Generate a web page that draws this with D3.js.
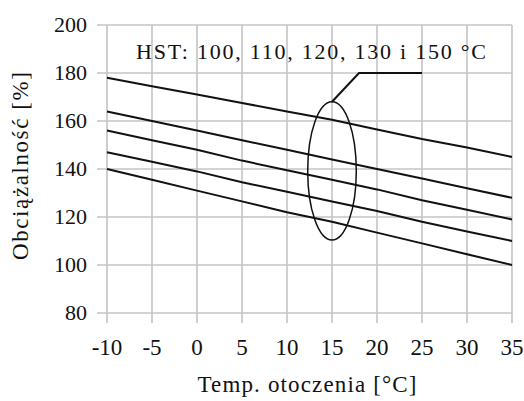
<!DOCTYPE html>
<html>
<head>
<meta charset="utf-8">
<script src="https://cdn.jsdelivr.net/npm/d3@7"></script>
<style>
  body { margin: 0; background: #fff; }
  text { font-family: "Liberation Serif", "Times New Roman", serif; fill: #111; }
</style>
</head>
<body>
<div id="chart"></div>
<script>
// data
const temps = [-10, -5, 0, 5, 10, 15, 20, 25, 30, 35];
const hst100 = [140, 135.5, 131, 126.5, 122, 118, 113.5, 109, 104.5, 100];
const hst110 = [147, 143, 139, 134.5, 130.5, 126.5, 122.5, 118, 114, 110];
const hst120 = [156, 152, 148, 143.5, 139.5, 135.5, 131.5, 127, 123, 119];
const hst130 = [164, 160, 156, 152, 148, 144, 140, 136, 132, 128];
const hst150 = [178, 174.5, 171, 167.5, 164, 160.5, 156.5, 152.5, 149, 145];
const series = [hst100, hst110, hst120, hst130, hst150];
const xTicks = [-10, -5, 0, 5, 10, 15, 20, 25, 30, 35];
const yTicks = [80, 100, 120, 140, 160, 180, 200];
const note = "HST: 100, 110, 120, 130 i 150 °C";

const margin = { top: 25, right: 12, bottom: 88, left: 107 };
const width = 524 - margin.left - margin.right;
const height = 401 - margin.top - margin.bottom;

const svg = d3.select("#chart")
    .append("svg")
    .attr("width", 524)
    .attr("height", 401);

const g = svg.append("g")
    .attr("transform", `translate(${margin.left},${margin.top})`);

const x = d3.scaleLinear().domain([-10, 35]).range([0, width]);
const y = d3.scaleLinear().domain([80, 200]).range([height, 0]);

// grid, with the little overhang outside the plot
g.selectAll(".hgrid")
    .data(yTicks)
    .enter()
    .append("line")
    .attr("x1", -10)
    .attr("x2", width)
    .attr("y1", d => y(d))
    .attr("y2", d => y(d))
    .attr("stroke", "#c4c4c4")
    .attr("stroke-width", 1.6);

g.selectAll(".vgrid")
    .data(xTicks)
    .enter()
    .append("line")
    .attr("x1", d => x(d))
    .attr("x2", d => x(d))
    .attr("y1", 0)
    .attr("y2", height + 10)
    .attr("stroke", "#c4c4c4")
    .attr("stroke-width", 1.6);

// tick labels
g.selectAll(".ylab")
    .data(yTicks)
    .enter()
    .append("text")
    .attr("x", -20)
    .attr("y", d => y(d) + 7)
    .attr("text-anchor", "end")
    .style("font-size", "22px")
    .text(d => d);

g.selectAll(".xlab")
    .data(xTicks)
    .enter()
    .append("text")
    .attr("x", d => x(d))
    .attr("y", height + 42)
    .attr("text-anchor", "middle")
    .style("font-size", "23px")
    .text(d => d);

// curves
const line = d3.line()
    .x((d, i) => x(temps[i]))
    .y(d => y(d));

series.forEach(s => {
    g.append("path")
        .datum(s)
        .attr("fill", "none")
        .attr("stroke", "#111")
        .attr("stroke-width", 2)
        .attr("d", line);
});

// ellipse around the curves at 15 degC and the leader line
g.append("ellipse")
    .attr("cx", x(15))
    .attr("cy", y(139.2))
    .attr("rx", x(17.7) - x(15))
    .attr("ry", y(110.4) - y(139.2))
    .attr("fill", "none")
    .attr("stroke", "#111")
    .attr("stroke-width", 1.5);

g.append("path")
    .attr("d", d3.line()([[x(15), y(168)], [x(18), y(180)], [x(25), y(180)]]))
    .attr("fill", "none")
    .attr("stroke", "#111")
    .attr("stroke-width", 2);

g.append("text")
    .attr("x", 29)
    .attr("y", 34)
    .attr("textLength", 350)
    .attr("lengthAdjust", "spacing")
    .style("font-size", "22px")
    .text(note);

// axis titles
svg.append("text")
    .attr("x", 307)
    .attr("y", 392)
    .attr("text-anchor", "middle")
    .attr("textLength", 219)
    .attr("lengthAdjust", "spacing")
    .style("font-size", "23px")
    .text("Temp. otoczenia [°C]");

svg.append("text")
    .attr("transform", "translate(28,166) rotate(-90)")
    .attr("text-anchor", "middle")
    .attr("textLength", 188)
    .attr("lengthAdjust", "spacing")
    .style("font-size", "23px")
    .text("Obciążalność [%]");
</script>
</body>
</html>
